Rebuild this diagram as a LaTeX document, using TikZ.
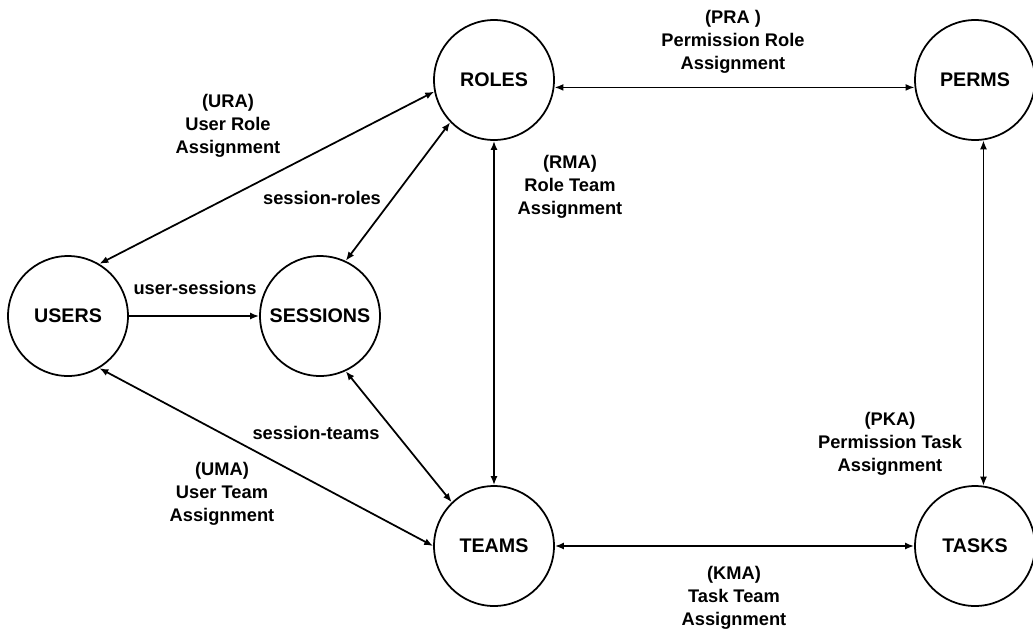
\documentclass[tikz,border=0pt]{standalone}
\usepackage{fontspec}
\setmainfont{Liberation Sans}
\usetikzlibrary{arrows.meta}

\tikzset{
  entity/.style={circle, draw, line width=1pt, minimum size=2.4cm, inner sep=0pt,
    font=\bfseries\fontsize{11.2}{13}\selectfont},
  lbl/.style={align=center, inner sep=1pt, font=\bfseries\fontsize{10.4}{13.2}\selectfont},
  link/.style={line width=1pt, {Latex[length=1.8mm,width=1.4mm]}-{Latex[length=1.8mm,width=1.4mm]}},
  onelink/.style={line width=1pt, -{Latex[length=1.8mm,width=1.4mm]}}
}

\begin{document}
\begin{tikzpicture}[x=0.02cm, y=-0.02cm]
  \useasboundingbox (0,0) rectangle (1033,633);

  % entity sets
  \node[entity] (roles)    at (494,80)  {ROLES};
  \node[entity] (perms)    at (975,80)  {PERMS};
  \node[entity] (users)    at (68,316)  {USERS};
  \node[entity] (sessions) at (320,316) {SESSIONS};
  \node[entity] (teams)    at (494,546) {TEAMS};
  \node[entity] (tasks)    at (975,546) {TASKS};

  % relations
  \draw[link] (users.59) -- (roles.191);
  \draw[link] (sessions.65) -- (roles.224);
  \draw[onelink] (users.east) -- (sessions.west);
  \draw[link] (roles.south) -- (teams.north);
  \draw[link] (roles.-7.5) -- (perms.187.5);
  \draw[link] (perms.-82) -- (tasks.82);
  \draw[link] (teams.east) -- (tasks.west);
  \draw[link] (users.-59) -- (teams.west);
  \draw[link] (sessions.-65) -- (teams.134);

  % relation labels
  \node[lbl] (ura) at (228,126) {(URA)\\User Role\\Assignment};
  \node[lbl] (sr)  at (322,198) {session-roles};
  \node[lbl] (us)  at (195,288) {user-sessions};
  \node[lbl] (rma) at (570,187) {(RMA)\\Role Team\\Assignment};
  \node[lbl] (pra) at (733,42)  {(PRA )\\Permission Role\\Assignment};
  \node[lbl] (pka) at (890,444) {(PKA)\\Permission Task\\Assignment};
  \node[lbl] (kma) at (734,598) {(KMA)\\Task Team\\Assignment};
  \node[lbl] (uma) at (222,494) {(UMA)\\User Team\\Assignment};
  \node[lbl] (st)  at (316,433) {session-teams};
\end{tikzpicture}
\end{document}
